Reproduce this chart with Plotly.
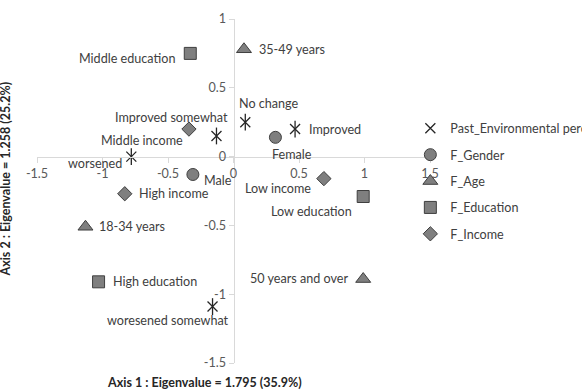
import plotly.graph_objects as go

# ---- data ----
past_labels = ["Improved", "Improved somewhat", "No change", "worsened", "woresened somewhat"]
past_x = [0.47, -0.13, 0.09, -0.78, -0.16]
past_y = [0.20, 0.15, 0.25, 0.00, -1.09]

gender_labels = ["Male", "Female"]
gender_x = [-0.31, 0.32]
gender_y = [-0.13, 0.14]

age_labels = ["18-34 years", "35-49 years", "50 years and over"]
age_x = [-1.13, 0.08, 0.99]
age_y = [-0.51, 0.78, -0.89]

edu_labels = ["Middle education", "High education", "Low education"]
edu_x = [-0.33, -1.03, 0.99]
edu_y = [0.75, -0.91, -0.29]

inc_labels = ["Middle income", "High income", "Low income"]
inc_x = [-0.34, -0.83, 0.69]
inc_y = [0.20, -0.27, -0.16]

x_ticks = [-1.5, -1, -0.5, 0, 0.5, 1, 1.5]
y_ticks = [-1.5, -1, -0.5, 0, 0.5, 1]
x_title = "Axis 1 : Eigenvalue = 1.795 (35.9%)"
y_title = "Axis 2 : Eigenvalue = 1.258 (25.2%)"

# ---- label placement styles (anchor, x shift px, y shift px) ----
past_pos = [("left", 12, 0), ("right", 14, 18), ("left", -8, 19), ("right", -7, -7), ("right", 18, -14)]
gender_pos = [("left", 9, -6), ("left", -5, -17)]
age_pos = [("left", 12, 0), ("left", 13, 0), ("right", -13, 1)]
edu_pos = [("right", -13, -5), ("left", 12, 0), ("right", -9, -15)]
inc_pos = [("right", -4, -11), ("left", 12, 0), ("right", -11, -10)]

# ---- style ----
FONT = "Lato"
LBL = dict(family=FONT, size=12.6, color="#404040")
FILL = "#7f7f7f"
EDGE = "#3f3f3f"
STAR = "#262626"

fig = go.Figure()

fig.add_trace(go.Scatter(
    x=past_x, y=past_y, mode="markers", name="Past_Environmental perception",
    legendgroup="a",
    marker=dict(symbol="x-thin-open", size=10, color=STAR, line=dict(color=STAR, width=1.3)),
))
fig.add_trace(go.Scatter(
    x=past_x, y=past_y, mode="markers", showlegend=False, hoverinfo="skip",
    marker=dict(symbol="line-ns-open", size=12, color=STAR, line=dict(color=STAR, width=1.3)),
))
fig.add_trace(go.Scatter(
    x=gender_x, y=gender_y, mode="markers", name="F_Gender", legendgroup="b",
    marker=dict(symbol="circle", size=12, color=FILL, line=dict(color=EDGE, width=1)),
))
fig.add_trace(go.Scatter(
    x=age_x, y=age_y, mode="markers", name="F_Age", legendgroup="c",
    marker=dict(symbol="triangle-up", size=13, color=FILL, line=dict(color=EDGE, width=1)),
))
fig.add_trace(go.Scatter(
    x=edu_x, y=edu_y, mode="markers", name="F_Education", legendgroup="d",
    marker=dict(symbol="square", size=12, color=FILL, line=dict(color=EDGE, width=1)),
))
fig.add_trace(go.Scatter(
    x=inc_x, y=inc_y, mode="markers", name="F_Income", legendgroup="e",
    marker=dict(symbol="diamond", size=11, color=FILL, line=dict(color=EDGE, width=1)),
))

annotations = []
for labels, xs, ys, pos in [(past_labels, past_x, past_y, past_pos),
                            (gender_labels, gender_x, gender_y, gender_pos),
                            (age_labels, age_x, age_y, age_pos),
                            (edu_labels, edu_x, edu_y, edu_pos),
                            (inc_labels, inc_x, inc_y, inc_pos)]:
    for t, xv, yv, (anc, dx, dy) in zip(labels, xs, ys, pos):
        annotations.append(dict(text=t, x=xv, y=yv, xref="x", yref="y",
                                xanchor=anc, yanchor="middle", xshift=dx, yshift=dy,
                                showarrow=False, font=LBL))

annotations += [
    dict(text=f"<b>{x_title}</b>", xref="paper", yref="paper", x=0.427, y=-0.057,
         xanchor="center", yanchor="middle", showarrow=False,
         font=dict(family=FONT, size=12.5, color="#262626")),
    dict(text=f"<b>{y_title}</b>", xref="paper", yref="paper", x=-0.08, y=0.535,
         xanchor="center", yanchor="middle", showarrow=False, textangle=-90,
         font=dict(family=FONT, size=12.5, color="#262626")),
]

axis_common = dict(
    showgrid=False, zeroline=False, showline=True, linecolor="#d9d9d9", linewidth=1,
    ticks="outside", ticklen=5, tickcolor="#d9d9d9",
    tickfont=dict(family=FONT, size=12.6, color="#595959"),
)

fig.update_layout(
    width=582, height=391,
    paper_bgcolor="white", plot_bgcolor="white",
    margin=dict(l=37, r=152, t=19, b=28, autoexpand=False),
    xaxis=dict(range=[-1.5, 1.5], tickvals=x_ticks, ticktext=[f"{v:g}" for v in x_ticks],
               anchor="free", position=0.6, **axis_common),
    yaxis=dict(range=[-1.5, 1], tickvals=y_ticks, ticktext=[f"{v:g}" for v in y_ticks],
               anchor="free", position=0.5, **axis_common),
    showlegend=True,
    legend=dict(x=0.95, y=0.725, xanchor="left", yanchor="top",
                font=dict(family=FONT, size=12.6, color="#404040"),
                bgcolor="rgba(0,0,0,0)", traceorder="grouped", tracegroupgap=7,
                itemwidth=30),
    annotations=annotations,
)

fig.write_html("out.html")
